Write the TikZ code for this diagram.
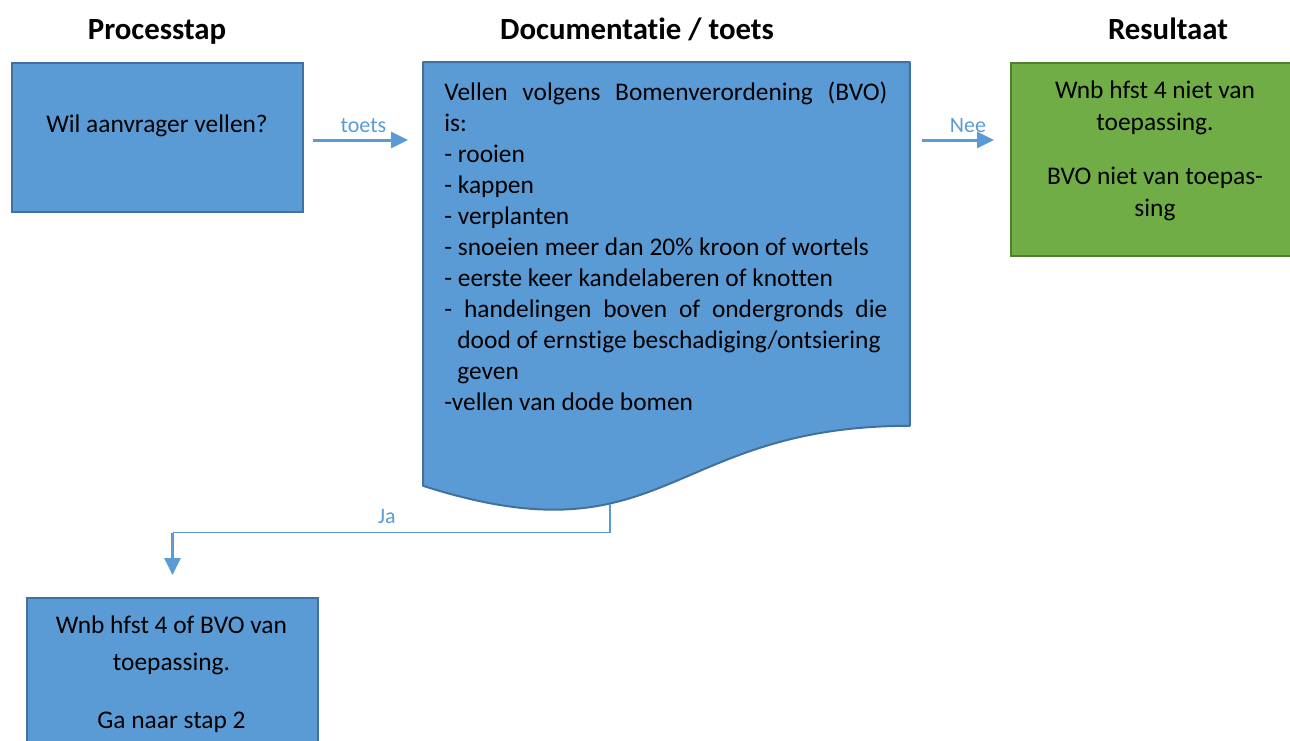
\documentclass[tikz,border=0pt]{standalone}
\usepackage{fontspec}
\setmainfont{Carlito}[RawFeature={-liga;-clig;-calt;-dlig}]
\usetikzlibrary{arrows.meta}
\definecolor{blauw}{HTML}{5B9BD5}
\definecolor{blauwrand}{HTML}{41719C}
\definecolor{groen}{HTML}{70AD47}
\definecolor{groenrand}{HTML}{507E32}
\newcommand{\tekst}{\fontsize{12.7pt}{15.5pt}\selectfont}
\newcommand{\regels}[1]{\begin{tabular}[t]{@{}c@{}}#1\end{tabular}}
\begin{document}
\begin{tikzpicture}[x=0.5pt,y=-0.5pt,
    kop/.style={font=\fontsize{15.4pt}{18pt}\selectfont\bfseries,anchor=base},
    blok/.style={draw=blauwrand,fill=blauw,line width=1pt,minimum width=145.5pt,inner sep=0pt,anchor=north west},
    groenblok/.style={blok,draw=groenrand,fill=groen},
    docvorm/.style={draw=blauwrand,fill=blauw,line width=1pt,line join=round},
    pijl/.style={draw=blauw,line width=1.5pt,-{Triangle[length=8.5pt,width=8pt]}},
    dun/.style={draw=blauw,line width=0.75pt},
    bijschrift/.style={text=blauw,font=\fontsize{11pt}{13pt}\selectfont,inner sep=1pt}]
    \useasboundingbox (0,0) rectangle (1290,740);
    % kolomkoppen
    \node[kop] (kopstap) at (157,39) {Processtap};
    \node[kop] (kopdoc) at (637,39) {Documentatie / toets};
    \node[kop] (kopres) at (1168,39) {Resultaat};
    % blokken
    \node[blok,minimum height=74.5pt] (stap) at (11,62) {};
    \node[anchor=base,font=\tekst] (staptekst) at (157,132) {Wil aanvrager vellen?};
    \node[groenblok,minimum height=96.5pt] (resultaat) at (1010,62) {};
    \node[anchor=base,font=\tekst] (resultaattekst) at (1155,98) {\regels{Wnb hfst 4 niet van\\[0.5pt] toepassing.\\[11.5pt] BVO niet van toepas-\\[0.5pt] sing}};
    \node[blok,minimum height=74.5pt] (uitkomst) at (26,597) {};
    \node[anchor=base,font=\tekst] (uitkomsttekst) at (171.5,633) {\regels{Wnb hfst 4 of BVO van\\[3pt] toepassing.\\[13.5pt] Ga naar stap 2}};
    % document
    \node[anchor=north west,minimum width=243pt,minimum height=181.5pt,inner sep=0pt] (doc) at (423,62) {};
    \draw[docvorm] (doc.north west) -- (doc.north east) -- (doc.south east)
        .. controls (doc.south) and ([yshift=-69pt]doc.south) .. ([yshift=-30pt]doc.south west)
        coordinate[pos=0.65] (jastart) -- cycle;
    \node[anchor=base west,inner sep=0pt] (doctekst) at (444,100) {\tekst\parbox[t]{221.5pt}{%
        \makebox[\linewidth][s]{Vellen volgens Bomenverordening (BVO)}\\
        is:\\
        - rooien\\
        - kappen\\
        - verplanten\\
        - snoeien meer dan 20\% kroon of wortels\\
        - eerste keer kandelaberen of knotten\\
        \makebox[\linewidth][s]{- handelingen boven of ondergronds die}\\
        \hspace*{6.5pt}dood of ernstige beschadiging/ontsiering\\
        \hspace*{6.5pt}geven\\
        -vellen van dode bomen}};
    % pijlen
    \coordinate (pijlhoogte) at (0,140);
    \draw[pijl,shorten <=4.5pt,shorten >=7.5pt] (pijlhoogte -| stap.east) -- (pijlhoogte -| doc.west)
        node[midway,above=2pt,bijschrift] (toets) {toets};
    \draw[pijl,shorten <=6pt,shorten >=8pt] (pijlhoogte -| doc.east) -- (pijlhoogte -| resultaat.west)
        node[midway,above=2pt,xshift=4pt,bijschrift] (nee) {Nee};
    \coordinate (knik) at ([yshift=-14.5pt]jastart -| uitkomst.north);
    \draw[dun] (jastart) |- (knik) node[pos=0.755,above=3pt,bijschrift] (ja) {Ja};
    \draw[pijl,shorten >=11pt] (knik) -- (uitkomst.north);
\end{tikzpicture}
\end{document}
